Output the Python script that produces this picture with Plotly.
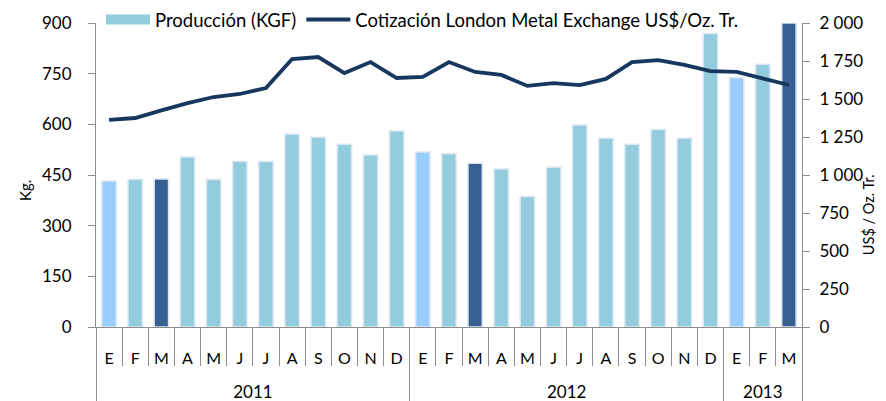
import plotly.graph_objects as go

years = ["2011"] * 12 + ["2012"] * 12 + ["2013"] * 3
months = ["E", "F", "M", "A", "M", "J", "J", "A", "S", "O", "N", "D",
          "E", "F", "M", "A", "M", "J", "J", "A", "S", "O", "N", "D",
          "E", "F", "M"]
produccion = [432, 437, 438, 503, 437, 490, 490, 571, 562, 541, 509, 580,
              518, 513, 485, 468, 386, 473, 598, 559, 541, 585, 559, 869,
              738, 778, 900]
cotizacion = [1362, 1375, 1425, 1473, 1513, 1533, 1572, 1763, 1776, 1671, 1743, 1638,
              1645, 1743, 1678, 1658, 1586, 1605, 1592, 1632, 1743, 1756, 1724, 1684,
              1678, 1638, 1592]
left_ticks = [0, 150, 300, 450, 600, 750, 900]
right_ticks = [0, 250, 500, 750, 1000, 1250, 1500, 1750, 2000]
right_ticktext = ["0", "250", "500", "750", "1 000", "1 250", "1 500", "1 750", "2 000"]

# positions on the category scale
xpos = list(range(len(months)))
year_names = []
for y in years:
    if y not in year_names:
        year_names.append(y)
year_centers = []
year_bounds = [-0.5]
for yn in year_names:
    idx = [i for i, y in enumerate(years) if y == yn]
    year_centers.append((idx[0] + idx[-1]) / 2)
    year_bounds.append(idx[-1] + 0.5)
month_bounds = [i - 0.5 for i in range(len(months) + 1)]

C_NORMAL = "#93CDDD"
C_ENERO = "#99CCFF"
C_MARZO = "#376092"
bar_colors = []
for i in range(len(months)):
    m = i % 12
    bar_colors.append(C_ENERO if m == 0 else (C_MARZO if m == 2 else C_NORMAL))

GRAY = "#8C8C8C"
FONT = "Lato"
fig = go.Figure()
fig.add_trace(go.Bar(
    x=xpos, y=produccion, name="Producción (KGF)", showlegend=False,
    marker=dict(color=bar_colors, line=dict(color="#DCE6F2", width=1.5)),
    width=0.55,
))
# legend-only entry drawn as a wide rectangle swatch
fig.add_trace(go.Scatter(
    x=[None], y=[None], name="Producción (KGF)", mode="lines",
    line=dict(color=C_NORMAL, width=12), hoverinfo="skip",
))
fig.add_trace(go.Scatter(
    x=xpos, y=cotizacion, name="Cotización London Metal Exchange US$/Oz. Tr.",
    mode="lines", line=dict(color="#17375E", width=3.8), yaxis="y2",
))
# invisible trace to carry the year axis
fig.add_trace(go.Scatter(x=year_centers, y=[None] * len(year_centers), xaxis="x2",
                         showlegend=False, hoverinfo="skip", mode="markers"))

xr = [-0.5, len(months) - 0.5]
fig.update_layout(
    width=886, height=401,
    margin=dict(l=88, r=92, t=15, b=82, autoexpand=False),
    paper_bgcolor="white", plot_bgcolor="white",
    font=dict(family=FONT, size=17, color="#000000"),
    showlegend=True,
    legend=dict(orientation="h", x=(101 - 8 - 88) / 706, xanchor="left", y=1.01,
                yanchor="middle", font=dict(size=18.5), bgcolor="rgba(0,0,0,0)",
                itemwidth=44, traceorder="normal"),
    xaxis=dict(
        range=xr, tickmode="array", tickvals=xpos, ticktext=months,
        showline=True, linecolor=GRAY, linewidth=1, showgrid=False, zeroline=False,
        ticks="outside", ticklen=17, tickcolor="rgba(0,0,0,0)",
        tickfont=dict(size=16),
        minor=dict(tickmode="array", tickvals=month_bounds, ticks="outside",
                   ticklen=38, tickcolor=GRAY, tickwidth=1, showgrid=False),
    ),
    xaxis2=dict(
        range=xr, overlaying="x", anchor="y", side="bottom",
        tickmode="array", tickvals=year_centers, ticktext=year_names,
        showline=False, showgrid=False, zeroline=False,
        ticks="outside", ticklen=50, tickcolor="rgba(0,0,0,0)",
        tickfont=dict(size=17),
        minor=dict(tickmode="array", tickvals=year_bounds, ticks="outside",
                   ticklen=82, tickcolor=GRAY, tickwidth=1, showgrid=False),
    ),
    yaxis=dict(
        range=[0, 900], tickvals=left_ticks, showgrid=False, showline=True,
        linecolor=GRAY, ticks="outside", ticklen=7, tickcolor=GRAY,
        tickfont=dict(size=17), zeroline=False, ticklabelstandoff=13,
    ),
    yaxis2=dict(
        range=[0, 2000], tickvals=right_ticks, ticktext=right_ticktext,
        overlaying="y", side="right", showgrid=False, showline=True,
        linecolor=GRAY, ticks="outside", ticklen=7, tickcolor=GRAY,
        tickfont=dict(size=17), zeroline=False, ticklabelstandoff=6,
    ),
    annotations=[
        dict(text="Kg.", xref="paper", yref="paper", x=-0.1006, y=0.4507,
             xanchor="center", yanchor="middle",
             textangle=-90, showarrow=False, font=dict(size=15)),
        dict(text="US$ / Oz. Tr.", xref="paper", yref="paper", x=(868 - 8 - 88) / 706,
             y=0.368, xanchor="center", yanchor="middle",
             textangle=-90, showarrow=False, font=dict(size=14.5)),
    ],
)

fig.write_html("out.html")
